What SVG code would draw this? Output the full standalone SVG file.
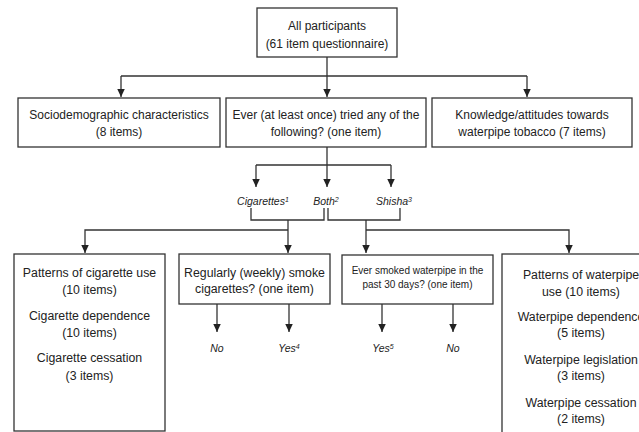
<svg xmlns="http://www.w3.org/2000/svg" width="639" height="432" viewBox="0 0 639 432">
<defs>
<marker id="ah" markerWidth="8" markerHeight="8" refX="8" refY="3.75" orient="auto" markerUnits="userSpaceOnUse">
<path d="M0,0 L8,3.75 L0,7.5 z" fill="#222"/>
</marker>
<style>
.box{fill:#fff;stroke:#333;stroke-width:1.3}
.t{font-family:"Liberation Sans",Arial,sans-serif;font-size:12px;fill:#222;text-anchor:middle}
.t2{font-family:"Liberation Sans",Arial,sans-serif;font-size:12.3px;fill:#222;text-anchor:middle}
.ts{font-family:"Liberation Sans",Arial,sans-serif;font-size:10px;fill:#222;text-anchor:middle}
.lb{font-family:"Liberation Sans",Arial,sans-serif;font-size:10.5px;font-style:italic;fill:#222;text-anchor:middle}
.sup{font-size:7px}
.c{fill:none;stroke:#333;stroke-width:1.3}
.a{marker-end:url(#ah)}
</style>
</defs>
<rect width="639" height="432" fill="#fff"/>
<g id="connectors">
<path class="c" d="M327,57 V76 M121,76 H527"/>
<path class="c a" d="M121,76 V97"/>
<path class="c a" d="M327,76 V97"/>
<path class="c a" d="M527,76 V97"/>
<path class="c" d="M327,147 V165 M256,165 H391"/>
<path class="c a" d="M256,165 V187"/>
<path class="c a" d="M327,165 V187"/>
<path class="c a" d="M391,165 V187"/>
<path class="c" d="M251,208 V220 H324 V208 M328,208 V220 H400 V208"/>
<path class="c a" d="M288,220 V253"/>
<path class="c a" d="M288,230 H85 V253"/>
<path class="c a" d="M366,220 V253"/>
<path class="c a" d="M366,230 H569 V253"/>
<path class="c a" d="M217,304 V332"/>
<path class="c a" d="M289,304 V332"/>
<path class="c a" d="M382,304 V332"/>
<path class="c a" d="M453,304 V332"/>
</g>
<g id="all-participants">
<rect class="box" x="257" y="8" width="140" height="49"/>
<text class="t" x="327" y="30">All participants</text>
<text class="t" x="327" y="48">(61 item questionnaire)</text>
</g>
<g id="sociodemographic">
<rect class="box" x="18" y="98" width="202" height="49"/>
<text class="t" x="119" y="119">Sociodemographic characteristics</text>
<text class="t" x="119" y="136">(8 items)</text>
</g>
<g id="ever-tried">
<rect class="box" x="226" y="98" width="200" height="49"/>
<text class="t" x="326" y="119">Ever (at least once) tried any of the</text>
<text class="t" x="326" y="136">following? (one item)</text>
</g>
<g id="knowledge">
<rect class="box" x="432" y="98" width="200" height="49"/>
<text class="t" x="532" y="119">Knowledge/attitudes towards</text>
<text class="t" x="532" y="136">waterpipe tobacco (7 items)</text>
</g>
<g id="label-cigarettes"><text class="lb" x="263" y="205">Cigarettes<tspan class="sup" baseline-shift="super">1</tspan></text></g>
<g id="label-both"><text class="lb" x="326" y="205">Both<tspan class="sup" baseline-shift="super">2</tspan></text></g>
<g id="label-shisha"><text class="lb" x="394" y="205">Shisha<tspan class="sup" baseline-shift="super">3</tspan></text></g>
<g id="cigarette-use">
<rect class="box" x="14" y="254" width="151" height="177"/>
<text class="t2" x="89.5" y="277">Patterns of cigarette use</text>
<text class="t2" x="89.5" y="294">(10 items)</text>
<text class="t2" x="89.5" y="320">Cigarette dependence</text>
<text class="t2" x="89.5" y="337">(10 items)</text>
<text class="t2" x="89.5" y="362">Cigarette cessation</text>
<text class="t2" x="89.5" y="380">(3 items)</text>
</g>
<g id="regularly">
<rect class="box" x="179" y="254" width="151" height="50"/>
<text class="t2" x="254.5" y="277">Regularly (weekly) smoke</text>
<text class="t2" x="254.5" y="293">cigarettes? (one item)</text>
</g>
<g id="ever-smoked">
<rect class="box" x="342" y="255" width="151" height="49"/>
<text class="ts" x="417.5" y="274">Ever smoked waterpipe in the</text>
<text class="ts" x="417.5" y="288">past 30 days? (one item)</text>
</g>
<g id="waterpipe-use">
<rect class="box" x="502" y="254" width="160" height="190"/>
<text class="t2" x="581" y="279">Patterns of waterpipe</text>
<text class="t2" x="581" y="296">use (10 items)</text>
<text class="t2" x="581" y="321">Waterpipe dependence</text>
<text class="t2" x="581" y="337">(5 items)</text>
<text class="t2" x="581" y="364">Waterpipe legislation</text>
<text class="t2" x="581" y="380">(3 items)</text>
<text class="t2" x="581" y="407">Waterpipe cessation</text>
<text class="t2" x="581" y="423">(2 items)</text>
</g>
<g id="label-no-1"><text class="lb" x="217" y="352">No</text></g>
<g id="label-yes-4"><text class="lb" x="289" y="352">Yes<tspan class="sup" baseline-shift="super">4</tspan></text></g>
<g id="label-yes-5"><text class="lb" x="383" y="352">Yes<tspan class="sup" baseline-shift="super">5</tspan></text></g>
<g id="label-no-2"><text class="lb" x="453" y="352">No</text></g>
</svg>
